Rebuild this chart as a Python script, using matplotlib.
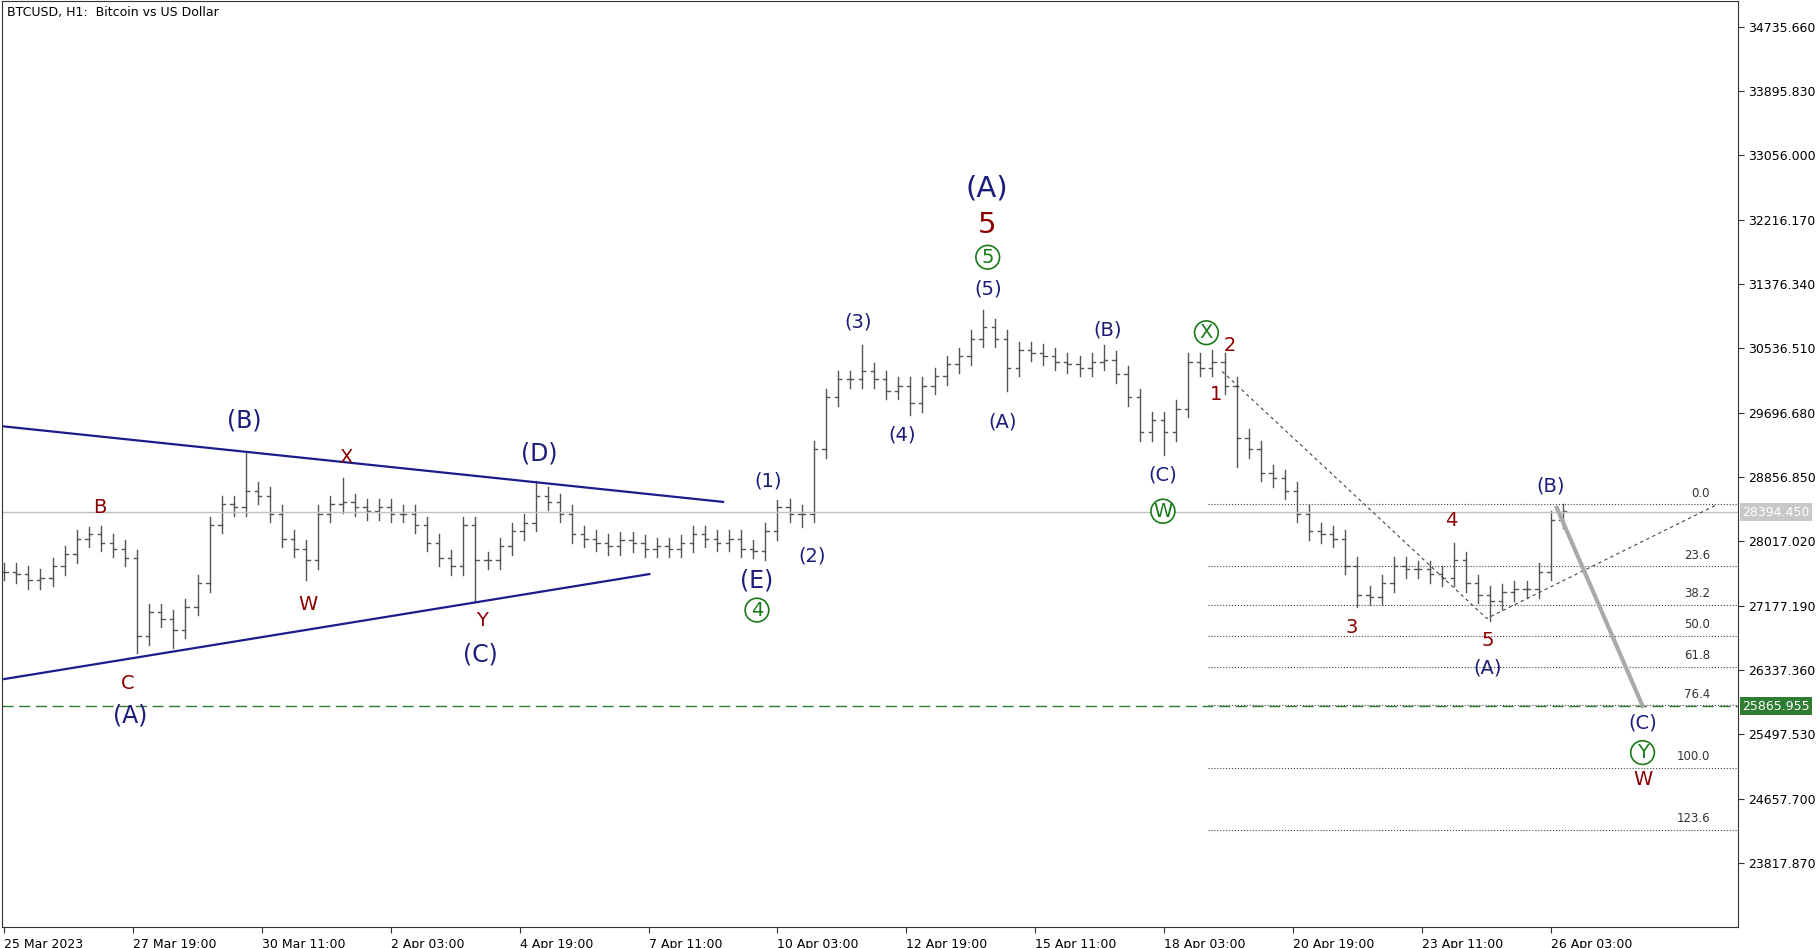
import numpy as np
import matplotlib.pyplot as plt
from matplotlib.lines import Line2D

# 6-hour closes, bar 0 = 25 Mar 03:00
closes = [27620, 27590, 27510, 27540, 27690, 27850, 28050, 28110, 28000, 27920,
          27800, 26780, 27090, 27010, 26860, 27160, 27470, 28230, 28500, 28460,
          28680, 28610, 28380, 28050, 27920, 27770, 28380, 28500, 28530, 28460,
          28410, 28460, 28380, 28380, 28230, 28000, 27800, 27690, 28230, 27770,
          27770, 27950, 28150, 28260, 28610, 28530, 28380, 28110, 28050, 28000,
          27950, 28030, 27990, 27920, 27950, 27920, 27990, 28110, 28050, 28000,
          28050, 27920, 27890, 28150, 28460, 28380, 28380, 29220, 29900, 30130,
          30130, 30240, 30130, 29980, 30050, 29820, 30050, 30170, 30330, 30430,
          30660, 30810, 30660, 30280, 30510, 30480, 30430, 30360, 30330, 30280,
          30360, 30390, 30200, 29900, 29440, 29600, 29440, 29750, 30360, 30280,
          30360, 30050, 29370, 29220, 28910, 28840, 28680, 28380, 28150, 28110,
          28050, 27700, 27320, 27290, 27470, 27700, 27650, 27650, 27590, 27540,
          27770, 27470, 27320, 27240, 27350, 27390, 27390, 27620, 28300, 28410]
high_extremes = {7: 28200, 20: 29170, 28: 28840, 44: 28810, 64: 28560, 71: 30585,
                 81: 31040, 91: 30585, 100: 30510, 120: 28000, 129: 28500}
low_extremes = {11: 26555, 14: 26630, 25: 27510, 39: 27240, 62: 27800, 66: 28200,
                75: 29670, 83: 29980, 96: 29140, 102: 28990, 112: 27160, 123: 26980}

price_ticks = [34735.660, 33895.830, 33056.000, 32216.170, 31376.340, 30536.510,
               29696.680, 28856.850, 28017.020, 27177.190, 26337.360, 25497.530,
               24657.700, 23817.870]
time_labels = ["25 Mar 2023", "27 Mar 19:00", "30 Mar 11:00", "2 Apr 03:00", "4 Apr 19:00",
               "7 Apr 11:00", "10 Apr 03:00", "12 Apr 19:00", "15 Apr 11:00", "18 Apr 03:00",
               "20 Apr 19:00", "23 Apr 11:00", "26 Apr 03:00"]
bid_price = 28394.450
target_price = 25865.955
fib_levels = [0.0, 23.6, 38.2, 50.0, 61.8, 76.4, 100.0, 123.6]
fib_high, fib_low = 28500, 25065

NAVY = '#1c1c7a'
RED = '#8b0000'
GREEN = '#1a7a1a'

fig = plt.figure(figsize=(18.18, 9.48), dpi=100)
ax = fig.add_axes([0.001, 0.022, 0.955, 0.977])
ax.set_xlim(-0.2, 143.5)
ax.set_ylim(22982, 35070)

# bars
w = 0.28
wick = 110
prev = closes[0]
for i, c in enumerate(closes):
    o = prev
    hi = high_extremes.get(i, max(o, c) + wick)
    lo = low_extremes.get(i, min(o, c) - wick)
    ax.plot([i, i], [lo, hi], color='#555555', lw=1.0)
    ax.plot([i - w, i], [o, o], color='#555555', lw=1.0)
    ax.plot([i, i + w], [c, c], color='#555555', lw=1.0)
    prev = c

# triangle
ax.plot([-0.2, 59.5], [29520, 28532], color='#1c1c8c', lw=1.6)
ax.plot([0, 53.4], [26220, 27590], color='#1c1c8c', lw=1.6)

ax.axhline(bid_price, color='#c0c0c0', lw=1)
ax.axhline(target_price, color='#2e7d32', lw=1, ls=(0, (8, 4)))

# fibonacci
for lv in fib_levels:
    p = fib_high - (fib_high - fib_low) * lv / 100
    ax.plot([99.6, 143.5], [p, p], color='#444444', lw=0.8, ls=':')
    ax.text(141.2, p + 60, f"{lv:.1f}", ha='right', va='bottom', fontsize=8.5, color='#333333')

ax.plot([100.8, 122.7, 141.8], [30235, 27010, 28500], color='#444444', lw=0.8, ls=(0, (3, 3)))
ax.plot([128.5, 135.6], [28456, 25870], color='#aaaaaa', lw=3)

labels = [
    ("(A)", 10.4, 25750, NAVY, 17), ("C", 10.2, 26160, RED, 14), ("B", 7.9, 28456, RED, 14),
    ("(B)", 19.9, 29596, NAVY, 17), ("X", 28.3, 29110, RED, 14), ("W", 25.1, 27194, RED, 14),
    ("(D)", 44.3, 29170, NAVY, 17), ("Y", 39.5, 26980, RED, 14), ("(C)", 39.4, 26540, NAVY, 17),
    ("(1)", 63.2, 28805, NAVY, 14), ("(2)", 66.9, 27820, NAVY, 14), ("(E)", 62.3, 27510, NAVY, 17),
    ("(3)", 70.7, 30874, NAVY, 14), ("(4)", 74.3, 29400, NAVY, 14), ("(5)", 81.4, 31314, NAVY, 14),
    ("5", 81.3, 32150, RED, 21), ("(A)", 81.3, 32620, NAVY, 21), ("(A)", 82.6, 29580, NAVY, 14),
    ("(B)", 91.3, 30770, NAVY, 14), ("(C)", 95.9, 28880, NAVY, 14), ("2", 101.4, 30570, RED, 14),
    ("1", 100.3, 29930, RED, 14), ("3", 111.5, 26890, RED, 14), ("4", 119.8, 28290, RED, 14),
    ("5", 122.8, 26720, RED, 14), ("(A)", 122.8, 26360, NAVY, 14), ("(B)", 128.0, 28745, NAVY, 14),
    ("(C)", 135.6, 25640, NAVY, 14), ("W", 135.6, 24910, RED, 14),
]
for t, x, y, col, fs in labels:
    ax.text(x, y, t, color=col, fontsize=fs, ha='center', va='center')

circles = [("4", 62.3, 27120), ("5", 81.4, 31725), ("W", 95.9, 28410),
           ("X", 99.5, 30740), ("Y", 135.6, 25260)]
for t, x, y in circles:
    ax.text(x, y, t, color=GREEN, fontsize=14, ha='center', va='center',
            bbox=dict(boxstyle='circle,pad=0.12', fc='white', ec=GREEN, lw=1.2))

ax.text(0.003, 0.995, "BTCUSD, H1:  Bitcoin vs US Dollar", transform=ax.transAxes,
        fontsize=9, va='top', ha='left')

# axes
ax.yaxis.tick_right()
ax.set_yticks(price_ticks)
ax.set_yticklabels([f"{p:.3f}" for p in price_ticks], fontsize=9)
ax.set_xticks([i * 64 / 6 for i in range(len(time_labels))])
ax.set_xticklabels(time_labels, fontsize=9, ha='left')
ax.tick_params(length=4, color='#333333')
for s in ax.spines.values():
    s.set_color('#333333')

for p, fc, tc in [(bid_price, '#c8c8c8', 'white'), (target_price, '#2e7d32', 'white')]:
    ax.annotate(f"{p:.3f}", xy=(1, p), xycoords=('axes fraction', 'data'),
                xytext=(3, 0), textcoords='offset points', va='center', fontsize=9,
                color=tc, bbox=dict(boxstyle='square,pad=0.2', fc=fc, ec='none'))

fig.savefig("out.png", dpi=100)
